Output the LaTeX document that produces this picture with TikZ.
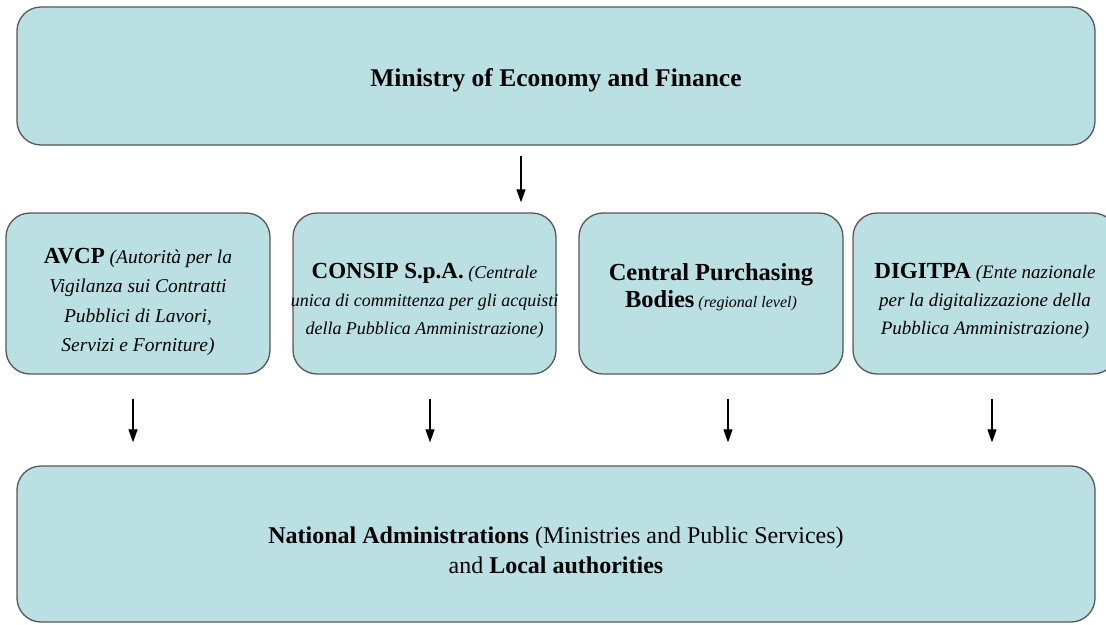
\documentclass[tikz,border=0pt]{standalone}
\usepackage{fontspec}
\setmainfont{Liberation Serif}
\usetikzlibrary{arrows.meta,calc}
\definecolor{boxfill}{RGB}{186,224,227}
\definecolor{boxline}{RGB}{88,88,88}
\newcommand{\bt}[1]{{\fontsize{23}{28}\selectfont\upshape\bfseries #1}}
\begin{document}
\begin{tikzpicture}[x=1pt,y=-1pt,
  box/.style={draw=boxline, line width=1.3pt, fill=boxfill, rounded corners=24pt, inner sep=0pt},
  midbox/.style={box, minimum width=264pt, minimum height=161pt},
  txt/.style={align=center, inner sep=0pt},
  itx/.style={txt, font=\fontsize{#1}{28}\selectfont\itshape},
  arr/.style={line width=1.2pt, -{Triangle[width=9pt,length=13pt]}}]
\useasboundingbox (0,0) rectangle (1106,624);
% boxes
\node[box, minimum width=1078pt, minimum height=138pt] (mef) at (556,76) {};
\node[midbox] (avcp) at (138,293.5) {};
\node[midbox, minimum width=263pt] (consip) at (424.5,293.5) {};
\node[midbox] (cpb) at (711,293.5) {};
\node[midbox] (digit) at (985,293.5) {};
\node[box, minimum width=1078pt, minimum height=156pt] (nat) at (556,544) {};
% texts
\node[txt, font=\fontsize{25.5}{30}\selectfont\bfseries] (mef-t) at ($(mef)+(0,4)$) {Ministry of Economy and Finance};
\node[itx=19.5, font=\fontsize{19.5}{29.3}\selectfont\itshape] (avcp-t) at ($(avcp)+(0,8.5)$) {\bt{AVCP} (Autorità per la\\ Vigilanza sui Contratti\\ Pubblici di Lavori,\\ Servizi e Forniture)};
\node[itx=18] (consip-t) at ($(consip)+(0,7)$) {\bt{CONSIP S.p.A.} (Centrale\\ unica di committenza per gli acquisti\\ della Pubblica Amministrazione)};
\node[itx=16, font=\fontsize{16}{27}\selectfont\itshape] (cpb-t) at ($(cpb)+(0,-6)$) {{\fontsize{24.5}{27}\selectfont\upshape\bfseries Central Purchasing}\\ {\fontsize{24.5}{27}\selectfont\upshape\bfseries Bodies} (regional level)};
\node[itx=19] (digit-t) at ($(digit)+(0,7)$) {\bt{DIGITPA} (Ente nazionale\\ per la digitalizzazione della\\ Pubblica Amministrazione)};
\node[txt, font=\fontsize{24}{30}\selectfont] (nat-t) at ($(nat)+(0,6)$) {\textbf{National Administrations} (Ministries and Public Services)\\ and \textbf{Local authorities}};
% connectors
\draw[arr] ($(mef.south -| consip.north)+(96.5,10)$) -- ($(consip.north)+(96.5,-10)$);
\draw[arr] ($(avcp.south)+(-5,24)$) -- ($(avcp.south |- nat.north)+(-5,-23)$);
\draw[arr] ($(consip.south)+(5.5,24)$) -- ($(consip.south |- nat.north)+(5.5,-23)$);
\draw[arr] ($(cpb.south)+(17,24)$) -- ($(cpb.south |- nat.north)+(17,-23)$);
\draw[arr] ($(digit.south)+(7,24)$) -- ($(digit.south |- nat.north)+(7,-23)$);
\end{tikzpicture}
\end{document}
